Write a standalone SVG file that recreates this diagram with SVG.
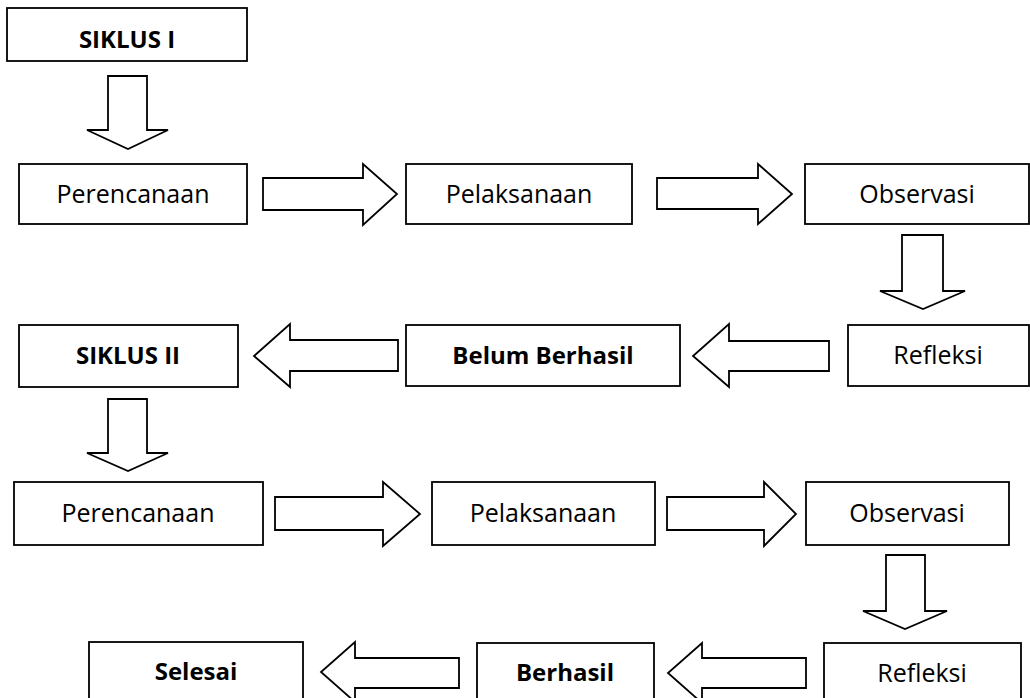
<svg xmlns="http://www.w3.org/2000/svg" width="1030" height="698" viewBox="0 0 1030 698">
<style>
.box{fill:#fff;stroke:#000;stroke-width:1.8}
.arr{fill:#fff;stroke:#000;stroke-width:1.8;stroke-linejoin:miter}
.t{font-family:"Open Sans","Noto Sans",sans-serif;font-size:25px;fill:#000;text-anchor:middle}
.b{font-family:"Open Sans","Noto Sans",sans-serif;font-size:24px;font-weight:bold;fill:#000;text-anchor:middle}
</style>
<rect width="1030" height="698" fill="#fff"/>
<g id="connectors">
<polygon class="arr" points="108,76 147,76 147,130 168,130 128,149 87,130 108,130"/>
<polygon class="arr" points="263,178 363,178 363,164 397,194 363,225 363,210 263,210"/>
<polygon class="arr" points="657,178 758,178 758,164 792,194 758,224 758,209 657,209"/>
<polygon class="arr" points="902,235 943,235 943,291 965,291 923,309 880,291 902,291"/>
<polygon class="arr" points="829,341 729,341 729,324 693,356 729,387 729,371 829,371"/>
<polygon class="arr" points="398,340 290,340 290,324 254,356 290,387 290,371 398,371"/>
<polygon class="arr" points="108,399 147,399 147,453 168,453 128,471 87,453 108,453"/>
<polygon class="arr" points="275,497 383,497 383,482 420,514 383,546 383,530 275,530"/>
<polygon class="arr" points="667,497 764,497 764,482 796,514 764,546 764,530 667,530"/>
<polygon class="arr" points="886,555 925,555 925,611 947,611 905,629 863,611 886,611"/>
<polygon class="arr" points="806,658 702,658 702,643 668,673 702,703 702,688 806,688"/>
<polygon class="arr" points="459,658 355,658 355,642 321,672 355,702 355,688 459,688"/>
</g>
<g id="siklus1"><rect class="box" x="7" y="8" width="240" height="53"/><text class="b" x="127" y="48">SIKLUS I</text></g>
<g id="perencanaan1"><rect class="box" x="19" y="164" width="228" height="60"/><text class="t" x="133" y="203">Perencanaan</text></g>
<g id="pelaksanaan1"><rect class="box" x="406" y="164" width="226" height="60"/><text class="t" x="519" y="203">Pelaksanaan</text></g>
<g id="observasi1"><rect class="box" x="805" y="164" width="224" height="60"/><text class="t" x="917" y="203">Observasi</text></g>
<g id="refleksi1"><rect class="box" x="848" y="325" width="181" height="61"/><text class="t" x="938" y="364">Refleksi</text></g>
<g id="belum"><rect class="box" x="406" y="325" width="274" height="61"/><text class="b" x="543" y="364">Belum Berhasil</text></g>
<g id="siklus2"><rect class="box" x="19" y="325" width="219" height="62"/><text class="b" x="128" y="364">SIKLUS II</text></g>
<g id="perencanaan2"><rect class="box" x="14" y="482" width="249" height="63"/><text class="t" x="138" y="522">Perencanaan</text></g>
<g id="pelaksanaan2"><rect class="box" x="432" y="482" width="223" height="63"/><text class="t" x="543" y="522">Pelaksanaan</text></g>
<g id="observasi2"><rect class="box" x="806" y="482" width="203" height="63"/><text class="t" x="907" y="522">Observasi</text></g>
<g id="refleksi2"><rect class="box" x="824" y="643" width="197" height="70"/><text class="t" x="922" y="682">Refleksi</text></g>
<g id="berhasil"><rect class="box" x="477" y="643" width="177" height="70"/><text class="b" x="565" y="681">Berhasil</text></g>
<g id="selesai"><rect class="box" x="89" y="642" width="214" height="70"/><text class="b" x="196" y="680">Selesai</text></g>
</svg>
